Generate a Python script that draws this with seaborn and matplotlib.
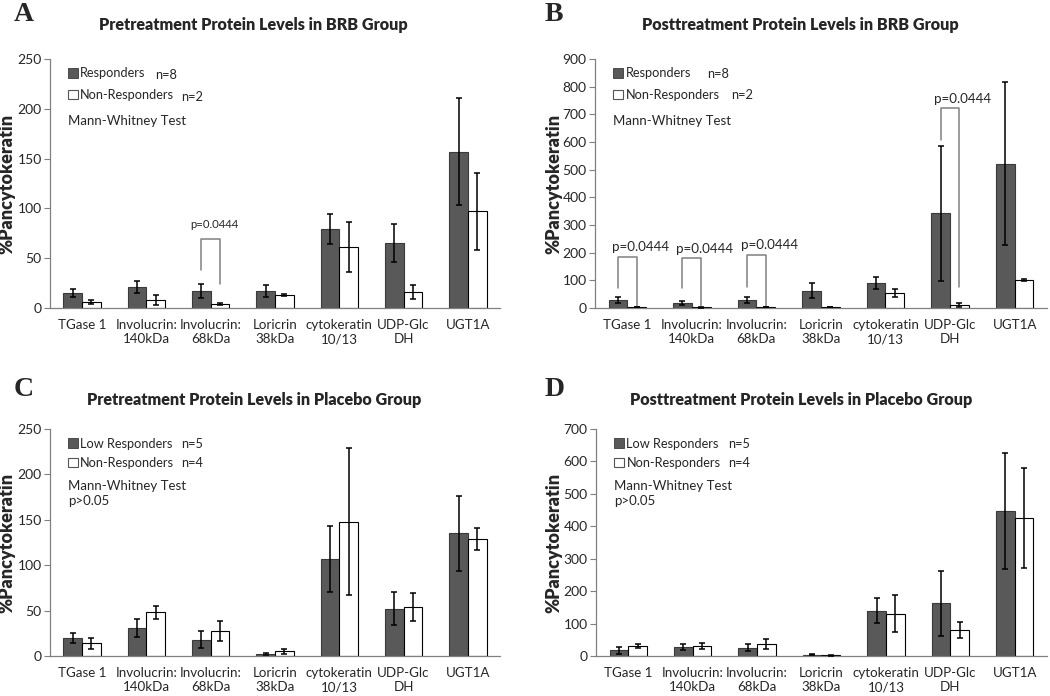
import pandas as pd
import matplotlib
matplotlib.use('Agg')
import matplotlib.pyplot as plt
from matplotlib.patches import Patch
import seaborn as sns

# proteins on the x axis
proteins = ['TGase 1', 'Involucrin:\n140kDa', 'Involucrin:\n68kDa', 'Loricrin\n38kDa',
            'cytokeratin\n10/13', 'UDP-Glc\nDH', 'UGT1A']

# A - pretreatment BRB
a_resp = [15, 21, 17, 17, 79, 65, 157]
a_resp_err = [4, 6, 7, 6, 15, 19, 54]
a_non = [6, 8, 4, 13, 61, 16, 97]
a_non_err = [2, 5, 1.5, 1, 25, 7, 39]

# B - posttreatment BRB
b_resp = [28, 19, 28, 63, 90, 343, 522]
b_resp_err = [10, 7, 11, 28, 22, 244, 296]
b_non = [3, 2, 3, 4, 53, 10, 102]
b_non_err = [1, 0.5, 1, 1, 15, 7, 3]

# C - pretreatment placebo
c_low = [20, 31, 18, 2, 107, 52, 135]
c_low_err = [5.5, 10, 9, 1, 36, 18, 41]
c_non = [14, 48, 28, 5, 148, 54, 129]
c_non_err = [6, 7, 11, 3, 81, 15, 12]

# D - posttreatment placebo
d_low = [17, 27, 26, 4, 140, 162, 447]
d_low_err = [10, 10, 11, 2, 38, 100, 180]
d_non = [32, 31, 36, 2, 131, 81, 425]
d_non_err = [6, 10, 15, 1, 58, 25, 155]

# significance brackets: (category index, left leg bottom, top, right leg bottom, text y)
a_brackets = [(2, 38, 69, 24, 78)]
b_brackets = [(0, 72, 183, 5, 198), (1, 72, 180, 5, 193), (2, 75, 191, 5, 206),
              (5, 608, 722, 75, 735)]

sns.set_style('white')
plt.rcParams['font.family'] = ['Lato', 'DejaVu Sans']

fig = plt.figure(figsize=(10.5, 6.96), dpi=100)

dark = '#595959'


def panel(rect, g1, g2, v1, e1, v2, e2, ymax, ystep, n1, n2, brackets, extra,
          psize, poff, lspace, labx):
    ax = fig.add_axes(rect)
    df = pd.DataFrame({
        'protein': proteins * 2,
        'value': v1 + v2,
        'group': [g1] * 7 + [g2] * 7,
    })
    sns.barplot(data=df, x='protein', y='value', hue='group', palette=[dark, 'white'],
                width=0.58, errorbar=None, legend=False, ax=ax, saturation=1)
    bars = list(ax.containers[:2])
    centers = [[b.get_x() + b.get_width() / 2 for b in c] for c in bars]
    for cont, edge, errs in zip(bars, ['#3a3a3a', 'black'], [e1, e2]):
        xs = []
        ys = []
        for bar in cont:
            bar.set_edgecolor(edge)
            bar.set_linewidth(0.8)
            xs.append(bar.get_x() + bar.get_width() / 2)
            ys.append(bar.get_height())
        ax.errorbar(xs, ys, yerr=errs, fmt='none', ecolor='black', elinewidth=1.1,
                    capsize=2.5, capthick=1.1, zorder=5)
    for i, lb, top, rb, ty in brackets:
        xl = centers[0][i]
        xr = centers[1][i]
        ax.plot([xl, xl, xr, xr], [lb, top, top, rb], color='#808080', lw=1.1)
        ax.text((xl + xr) / 2 + poff, ty, 'p=0.0444', ha='center', va='bottom',
                fontsize=psize)

    ax.set_xlim(-0.5, 6.5)
    ax.set_ylim(0, ymax)
    ax.set_yticks(range(0, ymax + 1, ystep))
    ax.set_xticks([x - 0.5 for x in range(8)], minor=True)
    ax.tick_params(axis='x', which='major', length=0, labelsize=9.6, pad=8)
    ax.tick_params(axis='x', which='minor', length=4, width=0.8, color='#808080', direction='out')
    ax.tick_params(axis='y', length=4, width=0.8, color='#808080', direction='out',
                   labelsize=10, left=True, pad=2)
    for s in ['top', 'right']:
        ax.spines[s].set_visible(False)
    for s in ['left', 'bottom']:
        ax.spines[s].set_color('#808080')
        ax.spines[s].set_linewidth(0.9)
    ax.set_xlabel('')
    ax.set_ylabel('%Pancytokeratin', fontsize=13, fontweight='heavy')
    ax.yaxis.set_label_coords(labx, 0.5)

    handles = [Patch(facecolor=dark, edgecolor='#3a3a3a', lw=0.6),
               Patch(facecolor='white', edgecolor='#555555', lw=0.8)]
    ax.legend(handles, [g1, g2], loc='upper left', bbox_to_anchor=(0.015, 1.013),
              frameon=False, handlelength=0.75, handleheight=0.75, handletextpad=0.2,
              labelspacing=lspace, fontsize=9.2)
    ax.text(n1[0], n1[1], n1[2], transform=ax.transAxes, fontsize=9.2, va='center')
    ax.text(n2[0], n2[1], n2[2], transform=ax.transAxes, fontsize=9.2, va='center')
    ax.text(0.04, extra[0], extra[1], transform=ax.transAxes, fontsize=9.5, va='top',
            linespacing=1.3)
    return ax


panel([0.0476, 0.5575, 0.4286, 0.3577], 'Responders', 'Non-Responders',
      a_resp, a_resp_err, a_non, a_non_err, 250, 50,
      (0.234, 0.936, 'n=8'), (0.291, 0.847, 'n=2'), a_brackets,
      (0.775, 'Mann-Whitney Test'), 8.2, 0.05, 0.75, -0.078)
panel([0.5667, 0.5575, 0.4303, 0.3577], 'Responders', 'Non-Responders',
      b_resp, b_resp_err, b_non, b_non_err, 900, 100,
      (0.248, 0.938, 'n=8'), (0.302, 0.855, 'n=2'), b_brackets,
      (0.775, 'Mann-Whitney Test'), 9.6, 0.2, 0.75, -0.073)
panel([0.0476, 0.0575, 0.4286, 0.3261], 'Low Responders', 'Non-Responders',
      c_low, c_low_err, c_non, c_non_err, 250, 50,
      (0.291, 0.934, 'n=5'), (0.291, 0.85, 'n=4'), [],
      (0.775, 'Mann-Whitney Test\np>0.05'), 9, 0, 0.56, -0.078)
panel([0.5676, 0.0575, 0.4295, 0.3261], 'Low Responders', 'Non-Responders',
      d_low, d_low_err, d_non, d_non_err, 700, 100,
      (0.294, 0.934, 'n=5'), (0.294, 0.85, 'n=4'), [],
      (0.775, 'Mann-Whitney Test\np>0.05'), 9, 0, 0.56, -0.075)

# panel titles and letters
titles = [(0.241, 0.964, 'Pretreatment Protein Levels in BRB Group'),
          (0.762, 0.964, 'Posttreatment Protein Levels in BRB Group'),
          (0.242, 0.425, 'Pretreatment Protein Levels in Placebo Group'),
          (0.763, 0.425, 'Posttreatment Protein Levels in Placebo Group')]
for x, y, t in titles:
    fig.text(x, y, t, ha='center', va='center', fontsize=11.6, fontweight='heavy')

letters = [(0.013, 0.979, 'A'), (0.519, 0.979, 'B'), (0.013, 0.44, 'C'), (0.519, 0.44, 'D')]
for x, y, t in letters:
    fig.text(x, y, t, ha='left', va='center', fontsize=20, fontweight='bold',
             family='Liberation Serif')

fig.savefig('out.png', dpi=100)
